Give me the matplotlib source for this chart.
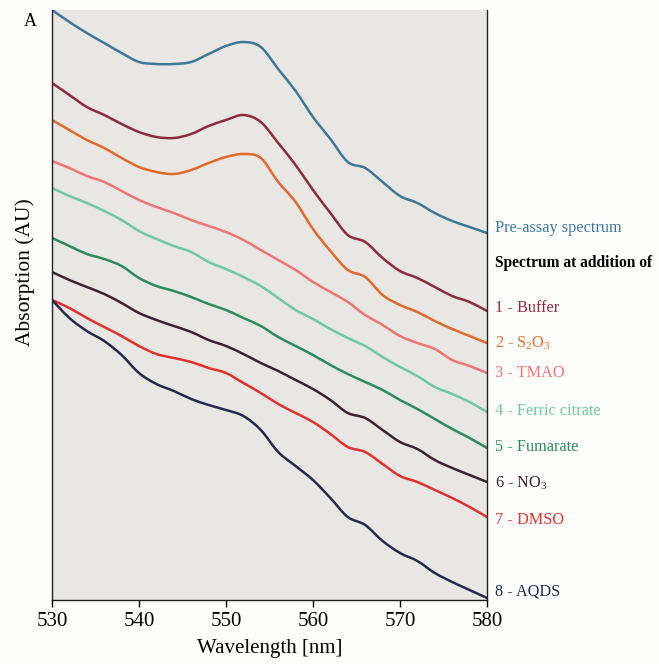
import matplotlib
matplotlib.use("Agg")
import matplotlib.pyplot as plt
from matplotlib.path import Path
from matplotlib.patches import PathPatch
import numpy as np

plt.rcParams['font.family'] = ['Liberation Serif', 'DejaVu Serif']
plt.rcParams['mathtext.fontset'] = 'custom'
plt.rcParams['mathtext.rm'] = 'Liberation Serif'

# wavelength grid (nm)
wavelength = np.arange(530, 581, 2)

# absorption, arbitrary units
pre_assay = [590, 578, 567, 557, 547, 538, 536, 536, 538, 546, 554, 558, 553, 531, 509,
             483, 461, 438, 432, 418, 404, 397, 387, 379, 373, 367]
buffer_ = [517, 505, 493, 485, 476, 468, 463, 462, 466, 474, 480, 485, 478, 457, 435,
           410, 387, 365, 358, 342, 329, 322, 313, 304, 298, 289]
s2o3 = [480, 470, 460, 452, 442, 433, 428, 426, 430, 437, 443, 446, 442, 418, 398,
        371, 349, 330, 323, 305, 295, 288, 279, 271, 264, 257]
tmao = [439, 432, 424, 418, 409, 400, 393, 387, 380, 374, 368, 360, 350, 340, 330,
        318, 308, 298, 285, 275, 264, 257, 251, 240, 234, 227]
ferric = [412, 404, 397, 389, 380, 369, 361, 354, 348, 338, 331, 323, 314, 302, 290,
          281, 271, 262, 254, 243, 233, 224, 213, 206, 198, 188]
fumarate = [362, 354, 346, 341, 334, 322, 314, 309, 303, 296, 290, 282, 274, 263, 254,
            245, 235, 226, 218, 210, 200, 191, 181, 171, 162, 152]
no3 = [328, 320, 313, 306, 297, 287, 280, 274, 268, 260, 254, 246, 237, 229, 220,
       211, 200, 187, 182, 170, 158, 151, 140, 132, 125, 118]
dmso = [300, 292, 282, 273, 264, 254, 246, 242, 238, 232, 227, 217, 207, 196, 187,
        178, 166, 153, 148, 136, 124, 118, 110, 102, 93, 83]
aqds = [300, 282, 269, 259, 245, 227, 216, 209, 201, 195, 190, 184, 170, 148, 134,
        120, 102, 83, 75, 59, 47, 39, 27, 18, 10, 2]

series = [pre_assay, buffer_, s2o3, tmao, ferric, fumarate, no3, dmso, aqds]
colors = ['#3d7898', '#8c2a3e', '#e2692a', '#ef7474', '#6fc8a3', '#2b8b5d',
          '#3b2333', '#e2312b', '#232a4e']
labels = ['Pre-assay spectrum', '1 - Buffer', '2 - S$_\\mathregular{2}$O$_\\mathregular{3}$',
          '3 - TMAO', '4 - Ferric citrate', '5 - Fumarate',
          '6 - NO$_\\mathregular{3}$', '7 - DMSO', '8 - AQDS']
label_y = [228, 308, 343, 373, 411, 447, 483, 520, 592]  # pixel rows of the side labels


def smooth_path(x, y):
    # draw the measured points joined by smooth cubic segments
    p = np.column_stack([x, y]).astype(float)
    n = len(p)
    verts = [p[0]]
    codes = [Path.MOVETO]
    for i in range(n - 1):
        p0 = p[max(i - 1, 0)]
        p3 = p[min(i + 2, n - 1)]
        c1 = p[i] + (p[i + 1] - p0) / 6.0
        c2 = p[i + 1] - (p3 - p[i]) / 6.0
        verts += [c1, c2, p[i + 1]]
        codes += [Path.CURVE4] * 3
    return Path(verts, codes)


fig = plt.figure(figsize=(6.59, 6.64), dpi=100)
fig.patch.set_facecolor('#fefefd')
W, H = 659, 664
ax = fig.add_axes([52 / W, 1 - 600 / H, (487 - 52) / W, (600 - 10) / H])
ax.set_facecolor('#e9e7e3')

for y, c in zip(series, colors):
    ax.add_patch(PathPatch(smooth_path(wavelength, y), fill=False, edgecolor=c,
                           lw=1.8, capstyle='round', joinstyle='round'))

ax.set_xlim(530, 580)
ax.set_ylim(0, 590)
ax.set_xticks(np.arange(530, 581, 10))
ax.set_yticks([])
ax.tick_params(axis='x', direction='out', length=5, width=1, labelsize=15, pad=4)
ax.spines['top'].set_visible(False)
for s in ['left', 'right', 'bottom']:
    ax.spines[s].set_linewidth(1.0)
    ax.spines[s].set_color('#222222')

fig.text(270 / W, 1 - 648 / H, 'Wavelength [nm]', ha='center', va='center', fontsize=15)
fig.text(25 / W, 1 - 272 / H, 'Absorption (AU)', ha='center', va='center',
         rotation=90, fontsize=15.5)
fig.text(30 / W, 1 - 22 / H, 'A', ha='center', va='center', fontsize=13)

for lab, py, c in zip(labels, label_y, colors):
    fig.text(495 / W, 1 - py / H, lab, ha='left', va='center', fontsize=11.7, color=c)
fig.text(495 / W, 1 - 263 / H, 'Spectrum at addition of', ha='left', va='center',
         fontsize=11.2, fontweight='bold', color='black')

fig.savefig('out.png', dpi=100, facecolor=fig.get_facecolor())
